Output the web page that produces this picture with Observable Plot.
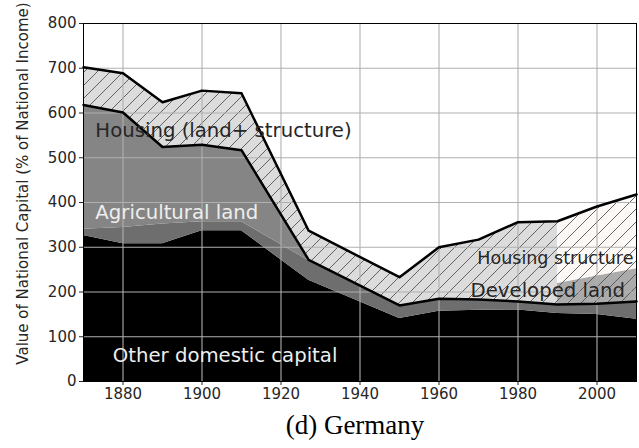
<!DOCTYPE html>
<html><head><meta charset="utf-8">
<script src="https://cdn.jsdelivr.net/npm/d3@7"></script>
<script src="https://cdn.jsdelivr.net/npm/@observablehq/plot@0.6"></script>
<style>body{margin:0;background:#fff;} #chart svg{display:block;}</style>
</head><body><div id="chart"></div>
<script>
// Germany: value of national capital (% of national income)
const years        = [1870, 1880, 1890, 1900, 1910, 1927, 1950, 1960, 1970, 1980, 1990, 2000, 2010];
const otherCapital = [326, 308, 308, 337, 337, 226, 141, 157, 159, 160, 152, 150, 139];
const bandTop      = [340, 344, 352, 357, 357, 270, 170, 185, 183, 179, 172, 174, 179];
const housingLow   = [618, 601, 524, 529, 517, 272, 170, 185, 183, 179, 172, 174, 179];
const totalCapital = [702, 689, 624, 650, 644, 337, 233, 300, 317, 356, 358, 391, 418];
const devYears     = [1990, 2000, 2010];
const developedTop = [219, 236, 252];
const xTicks = [1880, 1900, 1920, 1940, 1960, 1980, 2000];
const yTicks = [0, 100, 200, 300, 400, 500, 600, 700, 800];
const labels = [
  {text: "Housing (land+ structure)", year: 1873, value: 561, color: "#262626", size: 19.7},
  {text: "Agricultural land",         year: 1873, value: 378, color: "#eeeeee", size: 19.7},
  {text: "Other domestic capital",    year: 1877.4, value: 58, color: "#eeeeee", size: 19.7},
  {text: "Housing structure",         year: 1969.7, value: 275, color: "#262626", size: 17.5},
  {text: "Developed land",            year: 1968, value: 203, color: "#262626", size: 19.7}
];
const yLabel = "Value of National Capital (% of National Income)";
const caption = "(d) Germany";

const table = years.map((year, i) => ({year, other: otherCapital[i], band: bandTop[i], low: housingLow[i], total: totalCapital[i]}));
const devTable = devYears.map((year, i) => {
  const r = table.find(d => d.year === year);
  return {year, low: r.low, dev: developedTop[i], total: r.total};
});

const chart = Plot.plot({
  width: 639, height: 448,
  marginLeft: 83, marginRight: 3, marginTop: 23, marginBottom: 67,
  style: {fontFamily: "DejaVu Sans", fontSize: "15px", color: "#262626", background: "#fff"},
  x: {domain: [1870, 2010]},
  y: {domain: [0, 800]},
  marks: [
    Plot.areaY(table, {x: "year", y1: 0, y2: "other", fill: "#000"}),
    Plot.areaY(table, {x: "year", y1: "other", y2: "band", fill: "#6e6e6e"}),
    Plot.areaY(table, {x: "year", y1: "band", y2: "low", fill: "#858585"}),
    Plot.areaY(table, {x: "year", y1: "low", y2: "total", fill: "#dcdcdc"}),
    Plot.areaY(devTable, {x: "year", y1: "low", y2: "dev", fill: "#ababab"}),
    Plot.areaY(devTable, {x: "year", y1: "dev", y2: "total", fill: "#fdf9f7"}),
    Plot.areaY(table, {x: "year", y1: "low", y2: "total", fill: "url(#hatch)"}),
    Plot.gridX(xTicks, {stroke: "#b0b0b0", strokeOpacity: 1, strokeWidth: 1.1}),
    Plot.gridY(yTicks, {stroke: "#b0b0b0", strokeOpacity: 1, strokeWidth: 1.1}),
    Plot.lineY(table, {x: "year", y: "total", stroke: "#000", strokeWidth: 2.5}),
    Plot.lineY(table, {x: "year", y: "low", stroke: "#000", strokeWidth: 2.5}),
    Plot.text(labels, {x: "year", y: "value", text: "text", fill: "color", fontSize: "size", textAnchor: "start"}),
    Plot.axisX(xTicks, {tickSize: 4, tickPadding: 3, tickFormat: d => String(d), label: null, fontSize: 15}),
    Plot.axisY(yTicks, {tickSize: 4, tickPadding: 3, label: null, fontSize: 15}),
    Plot.frame({stroke: "#000", strokeWidth: 1}),
    Plot.text([yLabel], {frameAnchor: "left", textAnchor: "middle", rotate: -90, dx: -60, dy: -19, fontSize: 15, fill: "#262626"}),
    Plot.text([caption], {frameAnchor: "bottom", textAnchor: "middle", dy: 52, dx: -5, fontSize: 27, fontFamily: "Liberation Serif", fill: "#000"})
  ]
});

const ns = "http://www.w3.org/2000/svg";
const defs = document.createElementNS(ns, "defs");
defs.innerHTML = '<pattern id="hatch" patternUnits="userSpaceOnUse" width="13" height="13">' +
  '<path d="M0,13 L13,0 M-3,3 L3,-3 M10,16 L16,10" stroke="#555" stroke-width="0.9" fill="none"/></pattern>';
chart.insertBefore(defs, chart.firstChild);
document.getElementById("chart").appendChild(chart);
</script>
</body></html>
